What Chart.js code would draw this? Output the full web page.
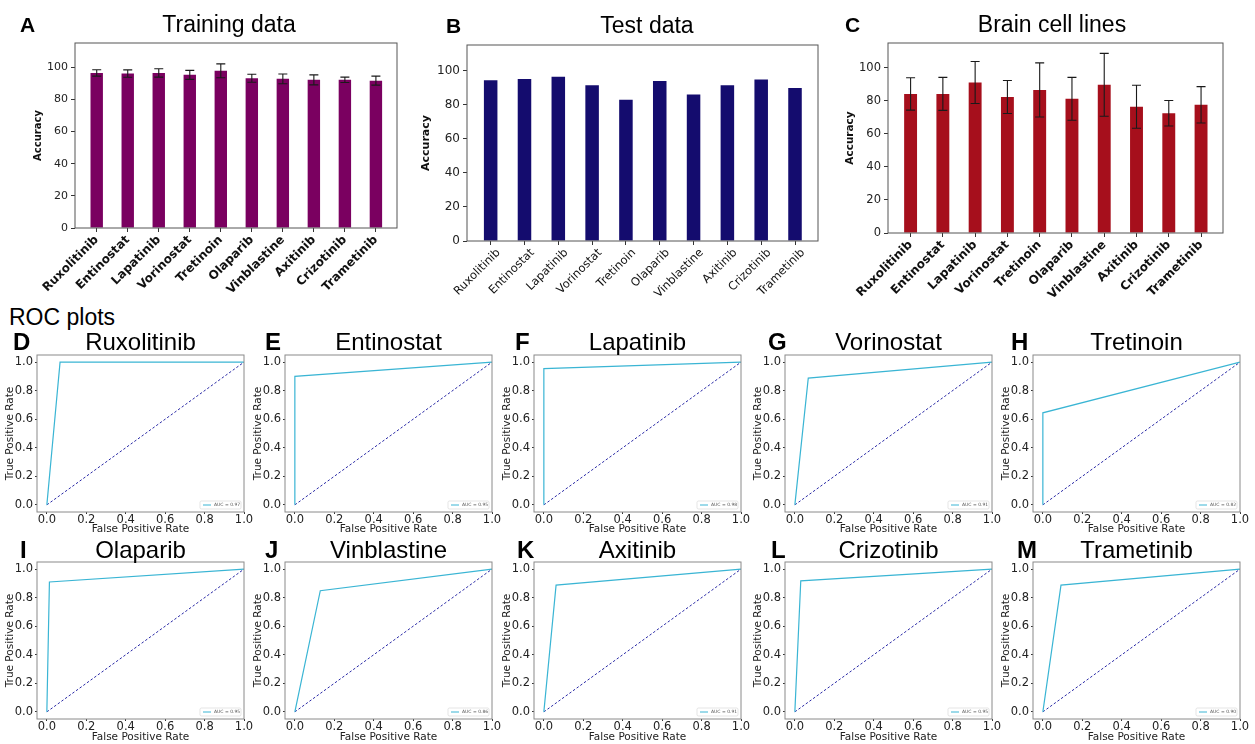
<!DOCTYPE html>
<html>
<head>
<meta charset="utf-8">
<script src="https://cdn.jsdelivr.net/npm/chart.js@4.4.1/dist/chart.umd.min.js"></script>
<style>
  body { margin: 0; width: 1255px; height: 744px; background: #fff; position: relative; overflow: hidden;
         font-family: "Liberation Sans", Arial, sans-serif; }
  canvas { position: absolute; }
  .t { position: absolute; white-space: nowrap; color: #000; line-height: 1; }
</style>
</head>
<body>
<script>
// ---- data ----
const drugs = ['Ruxolitinib', 'Entinostat', 'Lapatinib', 'Vorinostat', 'Tretinoin',
  'Olaparib', 'Vinblastine', 'Axitinib', 'Crizotinib', 'Trametinib'];

const trainAcc = [96.4, 96.0, 96.4, 95.2, 97.7, 93.1, 92.7, 92.1, 92.1, 91.6];
const trainErr = [2.0, 2.3, 2.6, 2.8, 4.3, 2.5, 3.0, 3.1, 1.7, 2.8];

const testAcc = [94.3, 95.1, 96.3, 91.4, 82.9, 93.9, 85.9, 91.4, 94.7, 89.8];

const brainAcc = [84.2, 84.2, 91.1, 82.3, 86.6, 81.2, 89.7, 76.4, 72.5, 77.6];
const brainErr = [9.8, 10.0, 12.7, 10.0, 16.4, 13.0, 19.0, 13.0, 7.7, 11.0];

// ROC curves: one operating point between (0,0) and (1,1)
const rocFpr = [0.067, 0.0, 0.0, 0.068, 0.0, 0.013, 0.129, 0.062, 0.03, 0.092];
const rocTpr = [1.0, 0.90, 0.955, 0.888, 0.645, 0.91, 0.849, 0.888, 0.918, 0.888];
const rocAuc = ['0.97', '0.95', '0.98', '0.91', '0.82', '0.95', '0.86', '0.91', '0.95', '0.90'];
const panelLetters = ['D', 'E', 'F', 'G', 'H', 'I', 'J', 'K', 'L', 'M'];

const accTicks = [0, 20, 40, 60, 80, 100];
const rateTicks = [0, 0.2, 0.4, 0.6, 0.8, 1.0];

Chart.defaults.font.family = '"DejaVu Sans", sans-serif';
Chart.defaults.color = '#222';

function addCanvas(left, top, w, h) {
  const cv = document.createElement('canvas');
  cv.width = w;
  cv.height = h;
  cv.style.left = left + 'px';
  cv.style.top = top + 'px';
  document.body.appendChild(cv);
  return cv;
}

function addText(text, x, baseline, size, bold, center) {
  const d = document.createElement('div');
  d.className = 't';
  d.textContent = text;
  d.style.fontSize = size + 'px';
  d.style.fontWeight = bold ? 'bold' : 'normal';
  d.style.top = (baseline - 0.8465 * size) + 'px';
  d.style.left = x + 'px';
  if (center) d.style.transform = 'translateX(-50%)';
  document.body.appendChild(d);
}

// box around the plot area, like matplotlib spines
const frame = {
  id: 'frame',
  afterDraw(chart, args, opts) {
    const { ctx, chartArea: a } = chart;
    ctx.save();
    ctx.strokeStyle = opts.color || '#555';
    ctx.lineWidth = 1;
    ctx.strokeRect(a.left, a.top, a.right - a.left, a.bottom - a.top);
    ctx.restore();
  }
};

const errorBars = {
  id: 'errorBars',
  afterDatasetsDraw(chart, args, opts) {
    if (!opts.err) return;
    const { ctx } = chart;
    const y = chart.scales.y;
    const ds = chart.data.datasets[0];
    ctx.save();
    ctx.strokeStyle = '#1a1a1a';
    ctx.lineWidth = 1.1;
    chart.getDatasetMeta(0).data.forEach((bar, i) => {
      const v = ds.data[i].y;
      const e = opts.err[i];
      const top = y.getPixelForValue(v + e);
      const bot = y.getPixelForValue(v - e);
      ctx.beginPath();
      ctx.moveTo(bar.x, top); ctx.lineTo(bar.x, bot);
      ctx.moveTo(bar.x - 4.5, top); ctx.lineTo(bar.x + 4.5, top);
      ctx.moveTo(bar.x - 4.5, bot); ctx.lineTo(bar.x + 4.5, bot);
      ctx.stroke();
    });
    ctx.restore();
  }
};

const aucLegend = {
  id: 'aucLegend',
  afterDraw(chart, args, opts) {
    const { ctx, chartArea: a } = chart;
    const w = 41, h = 8, x = a.right - w - 3, y = a.bottom - h - 3;
    ctx.save();
    ctx.fillStyle = 'rgba(255,255,255,0.85)';
    ctx.strokeStyle = '#d4d4d4';
    ctx.lineWidth = 0.6;
    ctx.beginPath();
    ctx.roundRect(x, y, w, h, 1.5);
    ctx.fill();
    ctx.stroke();
    ctx.strokeStyle = chart.data.datasets[0].borderColor;
    ctx.lineWidth = 1;
    ctx.beginPath();
    ctx.moveTo(x + 3, y + h / 2); ctx.lineTo(x + 11, y + h / 2);
    ctx.stroke();
    ctx.fillStyle = '#555';
    ctx.font = '4.5px "DejaVu Sans"';
    ctx.textBaseline = 'middle';
    ctx.fillText(opts.text, x + 14, y + h / 2 + 0.3);
    ctx.restore();
  }
};

function barPanel(o) {
  const cv = addCanvas(o.left, 0, o.width, 300);
  new Chart(cv, {
    type: 'bar',
    data: {
      datasets: [{
        data: o.values.map((v, i) => ({ x: i, y: v })),
        backgroundColor: o.color,
        borderWidth: 0,
        barPercentage: 1,
        categoryPercentage: 0.4
      }]
    },
    options: {
      responsive: false,
      animation: false,
      layout: { padding: { left: o.padL, top: o.padT, right: o.padR, bottom: 0 } },
      plugins: { legend: { display: false }, tooltip: { enabled: false }, errorBars: { err: o.err } },
      scales: {
        x: {
          type: 'linear', min: -0.7, max: 9.68, offset: false,
          afterBuildTicks: (s) => { s.ticks = drugs.map((d, i) => ({ value: i })); },
          afterFit: (s) => { s.height = o.xH; },
          ticks: {
            autoSkip: false, minRotation: 45, maxRotation: 45, padding: 1,
            labelOffset: o.labelShift,
            color: '#111',
            font: { size: o.xFont, weight: o.xBold ? 'bold' : 'normal' },
            callback: (v) => drugs[v]
          },
          grid: { drawOnChartArea: false, offset: false, tickLength: 4, color: '#333' },
          border: { display: false }
        },
        y: {
          min: 0, max: 115,
          afterBuildTicks: (s) => { s.ticks = accTicks.map((v) => ({ value: v })); },
          afterFit: (s) => { s.width = o.yW; },
          ticks: { padding: 3, font: { size: o.yFont } },
          title: { display: true, text: 'Accuracy', color: '#111',
                   font: { size: o.titleFont, weight: 'bold' }, padding: { top: 4, bottom: 0 } },
          grid: { drawOnChartArea: false, tickLength: 4, color: '#333' },
          border: { display: false }
        }
      }
    },
    plugins: [frame, errorBars]
  });
}

barPanel({ left: 0, width: 410, padL: 28, yW: 47, padT: 43, padR: 13, xH: 72, labelShift: 0,
  values: trainAcc, err: trainErr, color: '#7a0060', xFont: 12, xBold: true, yFont: 11, titleFont: 10 });
barPanel({ left: 410, width: 420, padL: 6, yW: 51, padT: 45, padR: 12, xH: 59, labelShift: 8,
  values: testAcc, err: null, color: '#140c6e', xFont: 11.5, xBold: false, yFont: 12, titleFont: 11 });
barPanel({ left: 820, width: 435, padL: 20, yW: 48, padT: 43, padR: 32, xH: 67, labelShift: 0,
  values: brainAcc, err: brainErr, color: '#a60f1c', xFont: 12, xBold: true, yFont: 11.5, titleFont: 10.5 });

addText('A', 20, 32, 21, true, false);
addText('Training data', 229, 32, 23, false, true);
addText('B', 446, 33, 21, true, false);
addText('Test data', 647, 33, 23, false, true);
addText('C', 845, 32, 21, true, false);
addText('Brain cell lines', 1052, 32, 23, false, true);
addText('ROC plots', 9, 325, 23, false, false);

const rocLefts = [37, 285, 534, 785, 1033];
const letterX = [13, 265, 515, 768, 1011, 20, 265, 517, 771, 1017];

function rocPanel(i) {
  const row = i < 5 ? 0 : 1;
  const L = rocLefts[i % 5];
  const T = row === 0 ? 355 : 562;
  const H = 157, W = 207;
  const xH = row === 0 ? 24 : 25;
  const cv = addCanvas(L - 37, T - 10, W + 37 + 14, 10 + H + xH);
  new Chart(cv, {
    type: 'scatter',
    data: {
      datasets: [
        { data: [{ x: 0, y: 0 }, { x: rocFpr[i], y: rocTpr[i] }, { x: 1, y: 1 }],
          showLine: true, borderColor: '#3ab5d4', borderWidth: 1.2, pointRadius: 0 },
        { data: [{ x: 0, y: 0 }, { x: 1, y: 1 }],
          showLine: true, borderColor: '#2a2aa6', borderWidth: 1, borderDash: [2.5, 2], pointRadius: 0 }
      ]
    },
    options: {
      responsive: false,
      animation: false,
      layout: { padding: { left: 0, top: 10, right: 14, bottom: 0 } },
      plugins: {
        legend: { display: false }, tooltip: { enabled: false },
        frame: { color: '#8a8a8a' },
        aucLegend: { text: 'AUC = ' + rocAuc[i] }
      },
      scales: {
        x: {
          type: 'linear', min: -0.05, max: 1.0,
          afterBuildTicks: (s) => { s.ticks = rateTicks.map((v) => ({ value: v })); },
          afterFit: (s) => { s.height = xH; },
          ticks: { padding: -1, font: { size: 11.5 }, callback: (v) => v.toFixed(1) },
          title: { display: true, text: 'False Positive Rate', font: { size: 10.5 }, padding: { top: 0, bottom: 0 } },
          grid: { drawOnChartArea: false, tickLength: 2, color: '#333' },
          border: { display: false }
        },
        y: {
          min: -0.05, max: 1.05,
          afterBuildTicks: (s) => { s.ticks = rateTicks.map((v) => ({ value: v })); },
          afterFit: (s) => { s.width = 37; },
          ticks: { padding: 2, font: { size: 11.5 }, callback: (v) => v.toFixed(1) },
          title: { display: true, text: 'True Positive Rate', font: { size: 10.5 }, padding: { top: 4, bottom: 0 } },
          grid: { drawOnChartArea: false, tickLength: 2, color: '#333' },
          border: { display: false }
        }
      }
    },
    plugins: [frame, aucLegend]
  });
  const base = row === 0 ? 350 : 558;
  addText(panelLetters[i], letterX[i], base, 24, true, false);
  addText(drugs[i], L + W / 2, base, 24, false, true);
}

for (let i = 0; i < 10; i++) rocPanel(i);
</script>
</body>
</html>
